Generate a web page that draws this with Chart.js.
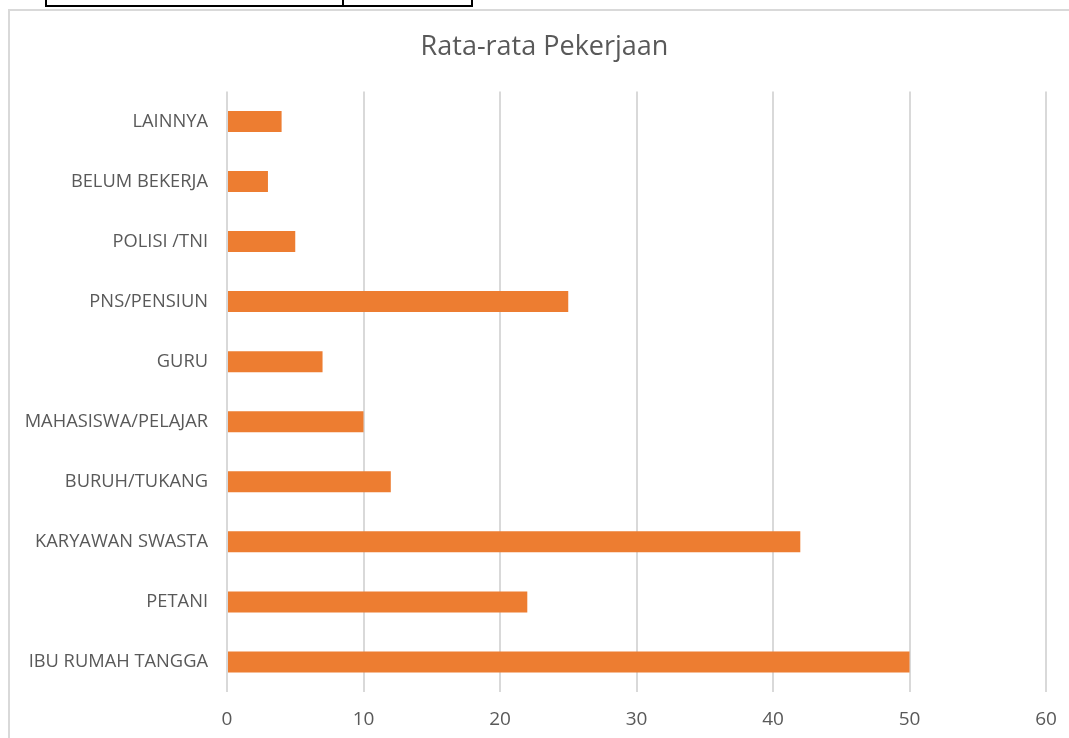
<!DOCTYPE html>
<html>
<head>
<meta charset="utf-8">
<script src="https://cdn.jsdelivr.net/npm/chart.js@4"></script>
<style>
  html, body { margin: 0; padding: 0; background: #fff; }
  body { width: 1069px; height: 738px; position: relative; overflow: hidden; }
  .frame { position: absolute; left: 8px; top: 9px; width: 1080px; height: 760px; border: 2px solid #d9d9d9; box-sizing: border-box; }
  .cell { position: absolute; top: -4px; height: 11px; border: 2px solid #000; box-sizing: border-box; }
  #wrap { position: absolute; left: 0; top: 0; width: 1069px; height: 738px; }
</style>
</head>
<body>
<div class="frame"></div>
<div class="cell" style="left:45px; width:299px;"></div>
<div class="cell" style="left:342px; width:131px;"></div>
<div id="wrap"><canvas id="chart"></canvas></div>
<script>
// categories, top to bottom
const categories = ['LAINNYA', 'BELUM BEKERJA', 'POLISI /TNI', 'PNS/PENSIUN', 'GURU',
    'MAHASISWA/PELAJAR', 'BURUH/TUKANG', 'KARYAWAN SWASTA', 'PETANI', 'IBU RUMAH TANGGA'];
const values = [4, 3, 5, 25, 7, 10, 12, 42, 22, 50];
const xTicks = [0, 10, 20, 30, 40, 50, 60];

const textColor = '#595959';
const fontFamily = "'Open Sans', 'Noto Sans', sans-serif";

var ctx = document.getElementById('chart').getContext('2d');
var myChart = new Chart(ctx, {
    type: 'bar',
    data: {
        labels: categories,
        datasets: [{
            label: 'Rata-rata Pekerjaan',
            data: values,
            backgroundColor: '#ED7D31',
            categoryPercentage: 1,
            barPercentage: 0.35
        }]
    },
    options: {
        indexAxis: 'y',
        responsive: true,
        maintainAspectRatio: false,
        animation: false,
        layout: { padding: { left: 20, right: 0, top: 0, bottom: 0 } },
        scales: {
            x: {
                min: 0,
                max: 60,
                afterBuildTicks: function (axis) {
                    axis.ticks = xTicks.map(v => ({ value: v }));
                },
                afterFit: function (axis) {
                    axis.height = 46;
                    axis.paddingLeft = 0;
                    axis.paddingRight = 23;
                },
                border: { display: false },
                grid: { color: '#d9d9d9', lineWidth: 2, drawTicks: false },
                ticks: {
                    color: textColor,
                    padding: 16,
                    font: { family: fontFamily, size: 19 }
                }
            },
            y: {
                afterFit: function (axis) { axis.width = 207; },
                border: { display: false },
                grid: { display: false, drawTicks: false },
                ticks: {
                    color: textColor,
                    padding: 19,
                    font: { family: fontFamily, size: 18.3 }
                }
            }
        },
        plugins: {
            legend: { display: false },
            tooltip: { enabled: false },
            title: {
                display: true,
                text: 'Rata-rata Pekerjaan',
                color: textColor,
                font: { family: fontFamily, size: 27, weight: 'normal' },
                padding: { top: 31, bottom: 28 }
            }
        }
    }
});
</script>
</body>
</html>
